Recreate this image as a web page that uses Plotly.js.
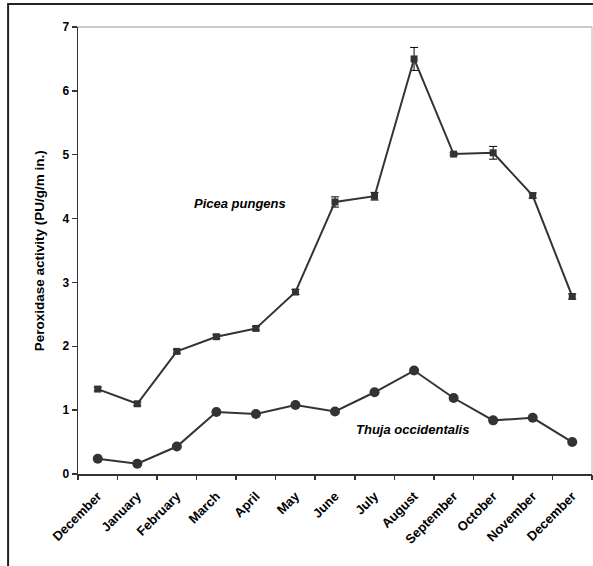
<!DOCTYPE html>
<html>
<head>
<meta charset="utf-8">
<script src="https://cdn.plot.ly/plotly-3.0.1.min.js"></script>
<style>html,body{margin:0;padding:0;background:#fff;overflow:hidden}</style>
</head>
<body>
<div id="chart" style="width:593px;height:566px"></div>
<script>
const months = ["December","January","February","March","April","May","June","July","August","September","October","November","December"];
const piceaValues = [1.33,1.10,1.92,2.15,2.28,2.85,4.26,4.35,6.50,5.01,5.03,4.36,2.78];
const piceaErrors = [0.03,0.03,0.03,0.03,0.03,0.04,0.08,0.06,0.18,0.02,0.10,0.04,0.04];
const thujaValues = [0.24,0.16,0.43,0.97,0.94,1.08,0.98,1.28,1.62,1.19,0.84,0.88,0.50];
const thujaErrors = [0.03,0.02,0.03,0.03,0.03,0.03,0.03,0.03,0.04,0.03,0.03,0.03,0.03];
const yTicks = [0,1,2,3,4,5,6,7];
const yTitle = 'Peroxidase activity (PU/g/m in.)';

const idx = months.map((m,i)=>i);
const bounds = months.concat(["end"]).map((m,i)=>i-0.5);
const dark = '#333333';
const fontFam = 'Arial, "Liberation Sans", sans-serif';

const traces = [
  {x: idx, y: piceaValues, type:'scatter', mode:'lines+markers', name:'Picea pungens',
   line:{color:dark,width:2}, marker:{symbol:'square',size:7,color:dark},
   error_y:{type:'data',array:piceaErrors,visible:true,color:'#000',thickness:1,width:4}},
  {x: idx, y: thujaValues, type:'scatter', mode:'lines+markers', name:'Thuja occidentalis',
   line:{color:dark,width:2}, marker:{symbol:'circle',size:10,color:dark},
   error_y:{type:'data',array:thujaErrors,visible:true,color:'#000',thickness:1,width:3}},
  {x:[0], y:[0], xaxis:'x2', yaxis:'y', mode:'markers', marker:{opacity:0}, hoverinfo:'skip', showlegend:false}
];

const layout = {
  width:593, height:566,
  margin:{l:78, r:1, t:27, b:92},
  paper_bgcolor:'#fff', plot_bgcolor:'#fff',
  showlegend:false,
  font:{family:fontFam, color:'#000'},
  xaxis:{range:[-0.5,12.5], tickvals:idx, ticktext:months, ticks:'', tickangle:-45, ticklabelstandoff:8,
    showline:true, linecolor:dark, linewidth:1.5, showgrid:false, zeroline:false,
    tickfont:{family:fontFam, size:13, weight:'bold', color:'#000'}, fixedrange:true},
  xaxis2:{overlaying:'x', anchor:'y', side:'bottom', range:[-0.5,12.5], tickvals:bounds,
    ticks:'outside', ticklen:5, tickwidth:1.5, tickcolor:dark, showticklabels:false,
    showline:false, showgrid:false, zeroline:false},
  yaxis:{range:[0,7], tickvals:yTicks, ticks:'outside', ticklen:5, tickwidth:1.5, tickcolor:dark,
    showline:true, linecolor:dark, linewidth:1.5, showgrid:false, zeroline:false,
    tickfont:{family:fontFam, size:12, weight:'bold', color:'#000'}},
  annotations:[
    {x:-0.093, y:0.5, xref:'paper', yref:'paper', text:'<b>'+yTitle+'</b>', textangle:-90, showarrow:false,
     font:{family:fontFam, size:13.5, color:'#000'}},
    {x:3.6, y:4.23, xref:'x', yref:'y', text:'<b><i>Picea pungens</i></b>', showarrow:false,
     font:{family:fontFam, size:13, color:'#000'}},
    {x:7.97, y:0.70, xref:'x', yref:'y', text:'<b><i>Thuja occidentalis</i></b>', showarrow:false,
     font:{family:fontFam, size:13, color:'#000'}}
  ],
  shapes:[
    {type:'line', xref:'paper', yref:'paper', x0:0, x1:1, y0:1, y1:1, line:{color:'#bbbbbb', width:1.5}},
    {type:'line', xref:'paper', yref:'paper', x0:1, x1:1, y0:0, y1:1, line:{color:'#cccccc', width:1.5}},
    {type:'rect', xref:'paper', yref:'paper', x0:-0.136, x1:1.05, y0:-0.25, y1:1.0515, line:{color:'#222', width:2}}
  ]
};

Plotly.newPlot('chart', traces, layout, {displayModeBar:false, staticPlot:true});
</script>
</body>
</html>
